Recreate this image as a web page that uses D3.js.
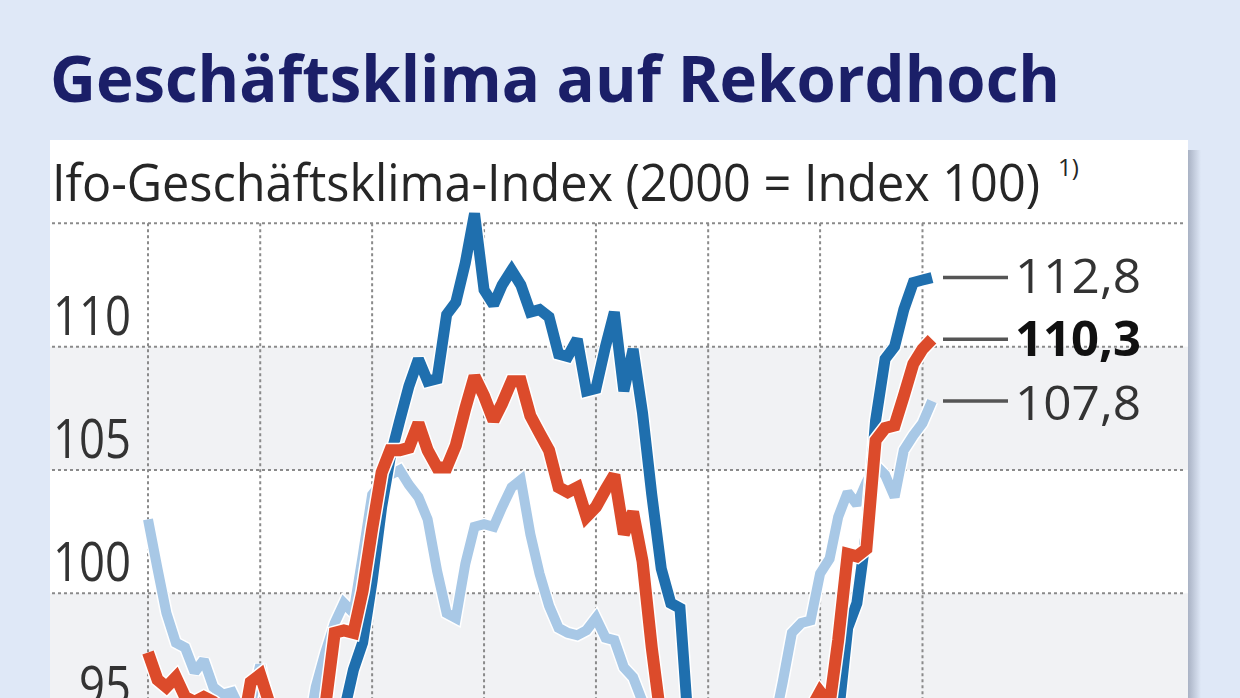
<!DOCTYPE html>
<html><head><meta charset="utf-8">
<script src="https://cdn.jsdelivr.net/npm/d3@7"></script>
<style>
html,body{margin:0;padding:0;background:#dfe8f7;overflow:hidden;}
svg{display:block;}
</style>
</head><body>
<svg id="chart" width="1240" height="698"></svg>
<script>
// ---------- data ----------
const title = "Geschäftsklima auf Rekordhoch";
const subtitle = "Ifo-Geschäftsklima-Index (2000 = Index 100)";
const footnoteMark = "1)";
const firstMonth = new Date(2004, 0, 1);
const lastMonth = new Date(2011, 0, 1);
const months = d3.timeMonth.range(firstMonth, d3.timeMonth.offset(lastMonth, 1)); // Jan 2004 .. Jan 2011
const gridDates = [new Date(2004,0,1), new Date(2005,0,1), new Date(2006,0,1), new Date(2007,0,1),
                   new Date(2008,0,1), new Date(2009,0,1), new Date(2010,0,1), new Date(2010,11,1)];
const yTicks = [95, 100, 105, 110, 115];
const yTickLabels = ["95", "100", "105", "110"];

// Geschäftslage (dark blue)
const lage = [
  93.5, 93.0, 92.4, 93.2, 92.8, 92.5, 93.0, 93.2, 92.6, 92.3, 91.8, 93.5,
  94.3, 93.4, 92.4, 91.2, 90.6, 91.4, 92.6, 93.4, 94.2, 95.2, 96.9, 98.0,
  100.5, 103.5, 105.5, 107.0, 108.4, 109.5, 108.6, 108.7, 111.3, 111.8, 113.4, 115.4,
  112.3, 111.7, 112.5, 113.1, 112.5, 111.4, 111.5, 111.2, 109.7, 109.6, 110.3, 108.2,
  108.3, 110.0, 111.4, 108.2, 109.9, 107.3, 104.0, 101.0, 99.6, 99.4, 94.0, 88.5,
  86.0, 84.5, 83.5, 82.8, 82.6, 83.0, 84.0, 86.0, 87.5, 88.5, 90.5, 91.5,
  92.5, 93.0, 95.0, 98.6, 99.6, 102.5, 107.0, 109.5, 110.0, 111.5, 112.6, 112.7,
  112.8
];
// Geschäftsklima (red)
const klima = [
  97.6, 96.5, 96.2, 96.6, 95.8, 95.6, 95.8, 95.6, 95.3, 94.8, 94.3, 96.4,
  96.7, 95.5, 94.6, 93.9, 93.3, 93.8, 94.9, 95.4, 98.4, 98.5, 98.4, 100.1,
  102.6, 104.9, 105.8, 105.8, 105.9, 106.9, 105.8, 105.1, 105.1, 106.0, 107.5, 108.8,
  108.0, 107.0, 107.7, 108.6, 108.6, 107.2, 106.5, 105.8, 104.3, 104.1, 104.3, 103.1,
  103.5, 104.2, 104.8, 102.4, 103.3, 101.3, 97.8, 94.8, 92.9, 90.2, 85.8, 82.6,
  83.0, 82.6, 82.1, 83.7, 84.2, 85.9, 87.3, 90.5, 91.3, 91.9, 93.9, 95.3,
  96.0, 95.5, 98.1, 101.6, 101.5, 101.8, 106.2, 106.7, 106.8, 108.0, 109.3, 109.9,
  110.3
];
// Geschäftserwartungen (light blue)
const erwartungen = [
  103.0, 101.0, 99.2, 98.0, 97.8, 96.8, 97.3, 96.2, 95.9, 96.0, 95.2, 95.5,
  97.1, 95.3, 94.3, 93.2, 92.9, 94.0, 96.2, 97.6, 98.8, 99.6, 99.2, 101.5,
  104.0, 104.5, 104.8, 105.0, 104.4, 103.9, 103.0, 100.9, 99.2, 99.0, 101.2, 102.7,
  102.8, 102.7, 103.5, 104.3, 104.6, 102.4, 100.8, 99.5, 98.6, 98.4, 98.3, 98.5,
  99.0, 98.2, 98.1, 97.0, 96.6, 95.6, 93.5, 91.5, 89.0, 85.0, 80.5, 77.5,
  78.5, 78.0, 80.0, 82.5, 84.5, 87.0, 89.5, 94.5, 96.4, 98.4, 98.8, 98.9,
  100.8, 101.4, 103.1, 104.1, 103.6, 104.5, 105.2, 104.8, 103.9, 105.8, 106.4, 106.9,
  107.8
];
const endLabels = ["112,8", "110,3", "107,8"];

// ---------- drawing ----------
const svg = d3.select("#chart");
const FONT = "'Open Sans', 'Noto Sans', sans-serif";

const x = d3.scaleTime().domain([firstMonth, lastMonth]).range([148, 932]);
const y = d3.scaleLinear().domain([95, 115]).range([716.7, 223.3]);

// background
svg.append("rect").attr("width", 1240).attr("height", 698).attr("fill", "#dfe8f7");

// panel shadow
const defs = svg.append("defs");
const sg = defs.append("linearGradient").attr("id", "shadow").attr("x1", 0).attr("x2", 1);
sg.append("stop").attr("offset", 0).attr("stop-color", "#a9b2c4");
sg.append("stop").attr("offset", 1).attr("stop-color", "#dfe8f7");
svg.append("rect").attr("x", 1188).attr("y", 150).attr("width", 13).attr("height", 560).attr("fill", "url(#shadow)");

// panel
svg.append("rect").attr("x", 50).attr("y", 140).attr("width", 1138).attr("height", 600).attr("fill", "#ffffff");

// grey bands
const bands = [[105, 110], [95, 100]];
svg.append("g").selectAll("rect").data(bands).join("rect")
  .attr("x", 50).attr("width", 1138)
  .attr("y", d => y(d[1])).attr("height", d => y(d[0]) - y(d[1]))
  .attr("fill", "#f1f2f4");

// title
svg.append("text").text(title)
  .attr("x", 50).attr("y", 102)
  .attr("font-family", FONT).attr("font-weight", 700).attr("font-size", 64)
  .attr("fill", "#1b1f68")
  .attr("textLength", 1010).attr("lengthAdjust", "spacingAndGlyphs");

// subtitle with footnote mark (one text element)
const st = svg.append("text")
  .attr("x", 52).attr("y", 201)
  .attr("font-family", FONT).attr("font-weight", 400).attr("font-size", 52)
  .attr("fill", "#262626");
st.append("tspan").text(subtitle)
  .attr("textLength", 988).attr("lengthAdjust", "spacingAndGlyphs");
st.append("tspan").text(footnoteMark)
  .attr("x", 1058).attr("dy", -25)
  .attr("font-size", 24);

// horizontal grid
svg.append("g").selectAll("line").data(yTicks).join("line")
  .attr("x1", 52).attr("x2", 1186)
  .attr("y1", d => y(d)).attr("y2", d => y(d))
  .attr("stroke", "#8a8a8a").attr("stroke-width", 2).attr("stroke-dasharray", "3,3");

// vertical grid
svg.append("g").selectAll("line").data(gridDates).join("line")
  .attr("x1", d => x(d)).attr("x2", d => x(d))
  .attr("y1", y(115)).attr("y2", 740)
  .attr("stroke", "#8a8a8a").attr("stroke-width", 2).attr("stroke-dasharray", "3,3");

// y labels
svg.append("g").selectAll("text").data(yTickLabels).join("text")
  .text(d => d)
  .attr("x", 131).attr("y", d => y(+d) - 12)
  .attr("text-anchor", "end")
  .attr("font-family", FONT).attr("font-size", 54).attr("fill", "#333")
  .attr("textLength", d => d.length * 26).attr("lengthAdjust", "spacingAndGlyphs");

// series
const series = [
  {values: erwartungen, color: "#a8c8e6", width: 10},
  {values: lage, color: "#1f6fae", width: 11},
  {values: klima, color: "#dc4b2b", width: 12}
];
const line = d3.line().x((d, i) => x(months[i])).y(d => y(d)).curve(d3.curveLinear);
const sgp = svg.append("g");
series.forEach(s => {
  sgp.append("path").datum(s.values).attr("d", line)
    .attr("fill", "none").attr("stroke", "#ffffff").attr("stroke-width", s.width + 3)
    .attr("stroke-linejoin", "miter").attr("stroke-miterlimit", 2);
  sgp.append("path").datum(s.values).attr("d", line)
    .attr("fill", "none").attr("stroke", s.color).attr("stroke-width", s.width)
    .attr("stroke-linejoin", "miter").attr("stroke-miterlimit", 2);
});

// end labels
const endVals = [lage[lage.length-1], klima[klima.length-1], erwartungen[erwartungen.length-1]];
const lg = svg.append("g");
endVals.forEach((v, i) => {
  lg.append("line").attr("x1", 943).attr("x2", 1008).attr("y1", y(v)).attr("y2", y(v))
    .attr("stroke", "#555").attr("stroke-width", 3.5);
  lg.append("text").text(endLabels[i])
    .attr("x", 1015).attr("y", y(v) + 15 + i * 2)
    .attr("font-family", FONT).attr("font-size", 48)
    .attr("font-weight", i === 1 ? 700 : 400)
    .attr("fill", i === 1 ? "#111" : "#333")
    .attr("textLength", 126).attr("lengthAdjust", "spacingAndGlyphs");
});
</script>
</body></html>
